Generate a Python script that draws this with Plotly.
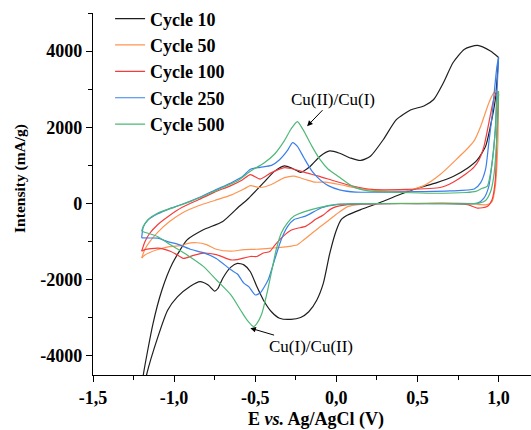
import plotly.graph_objects as go

# ---------------- data (E in V vs Ag/AgCl, I in mA/g) ----------------
cycles = ["Cycle 10", "Cycle 50", "Cycle 100", "Cycle 250", "Cycle 500"]

# Cycle 10 : anodic (forward) branch and cathodic (reverse) branch
E10_a = [-1.20, -1.19, -1.13, -1.075, -1.01, -0.92, -0.82, -0.70, -0.60, -0.54, -0.45, -0.38, -0.32, -0.27, -0.22,
         -0.16, -0.10, -0.04, 0.02, 0.09, 0.15, 0.21, 0.29, 0.37, 0.46, 0.54, 0.60, 0.66, 0.72, 0.79, 0.87, 0.95, 1.00]
I10_a = [-4900, -4500, -3150, -2270, -1570, -955, -690, -470, -80, 140, 540, 850, 990, 920, 820,
         980, 1240, 1380, 1320, 1190, 1130, 1240, 1680, 2200, 2460, 2560, 2730, 3170, 3700, 4050, 4150, 4000, 3830]
E10_c = [1.00, 0.98, 0.95, 0.92, 0.87, 0.81, 0.72, 0.62, 0.50, 0.40, 0.29, 0.15, 0.07, 0.03, 0.00, -0.04, -0.08,
         -0.12, -0.17, -0.22, -0.28, -0.35, -0.40, -0.45, -0.49, -0.53, -0.57, -0.61, -0.65, -0.70, -0.73, -0.75,
         -0.79, -0.84, -0.90, -0.98, -1.04, -1.10, -1.17, -1.20]
I10_c = [3830, 2730, 2030, 1500, 1150, 930, 710, 550, 400, 250, 60, -160, -300, -420, -700, -1300, -2090,
         -2530, -2840, -2990, -3040, -3010, -2840, -2530, -2180, -1790, -1610, -1570, -1670, -1960, -2230, -2300,
         -2140, -2050, -2170, -2450, -2800, -3500, -4500, -5200]

# Cycle 50
E50_a = [-1.20, -1.18, -1.15, -1.10, -1.03, -0.95, -0.85, -0.75, -0.65, -0.57, -0.53, -0.47, -0.40, -0.32, -0.26,
         -0.19, -0.13, -0.07, 0.02, 0.12, 0.22, 0.43, 0.54, 0.64, 0.75, 0.81, 0.85, 0.89, 0.94, 0.97, 0.99, 1.00]
I50_a = [-1430, -1200, -1000, -750, -480, -250, -60, 80, 220, 380, 470, 420, 500, 680, 720,
         630, 560, 560, 500, 410, 350, 330, 470, 760, 1200, 1450, 1650, 2030, 2640, 2900, 2950, 2870]
E50_c = [1.00, 0.995, 0.98, 0.96, 0.93, 0.89, 0.83, 0.72, 0.50, 0.30, 0.15, 0.07, 0.00, -0.05, -0.10, -0.15,
         -0.20, -0.24, -0.30, -0.40, -0.49, -0.57, -0.65, -0.74, -0.80, -0.86, -0.92, -0.95, -1.03, -1.11, -1.18, -1.20]
I50_c = [2870, 1500, 450, 50, -30, -30, 0, 10, 5, 0, -20, -80, -280, -450, -610, -780,
         -950, -1080, -1130, -1170, -1200, -1210, -1250, -1200, -1080, -1030, -1050, -1100, -1130, -1220, -1350, -1430]

# Cycle 100
E100_a = [-1.20, -1.18, -1.15, -1.10, -1.03, -0.95, -0.85, -0.75, -0.65, -0.58, -0.53, -0.47, -0.40, -0.32, -0.26,
          -0.19, -0.11, -0.01, 0.10, 0.22, 0.43, 0.64, 0.72, 0.80, 0.85, 0.88, 0.91, 0.94, 0.97, 0.99, 1.00]
I100_a = [-1250, -1000, -780, -550, -320, -100, 100, 300, 470, 620, 760, 640, 810, 940, 900,
          810, 720, 590, 460, 370, 370, 420, 560, 780, 960, 1150, 1500, 2110, 2730, 2900, 2880]
E100_c = [1.00, 0.99, 0.98, 0.96, 0.93, 0.87, 0.81, 0.72, 0.50, 0.30, 0.15, 0.05, 0.00, -0.04, -0.08, -0.13,
          -0.16, -0.19, -0.24, -0.28, -0.33, -0.38, -0.41, -0.45, -0.49, -0.53, -0.61, -0.65, -0.74, -0.82,
          -0.88, -0.94, -0.98, -1.02, -1.10, -1.18, -1.20]
I100_c = [2880, 1940, 620, 100, -80, -120, -30, 0, 0, 0, -10, -40, -80, -160, -300, -420,
          -520, -600, -650, -700, -870, -1100, -1260, -1300, -1390, -1390, -1470, -1480, -1340, -1300,
          -1360, -1440, -1350, -1260, -1170, -1210, -1250]

# Cycle 250
E250_a = [-1.20, -1.19, -1.16, -1.10, -1.03, -0.95, -0.85, -0.75, -0.65, -0.58, -0.53, -0.47, -0.40, -0.35, -0.30,
          -0.27, -0.24, -0.20, -0.15, -0.10, -0.05, 0.02, 0.12, 0.30, 0.50, 0.70, 0.85, 0.89, 0.92, 0.94, 0.96,
          0.975, 0.99, 1.00]
I250_a = [-900, -620, -430, -270, -140, -20, 150, 350, 540, 700, 900, 950, 1000, 1150, 1400,
          1600, 1500, 1200, 850, 620, 470, 360, 300, 300, 310, 330, 380, 550, 900, 1600, 2300,
          2990, 3600, 3830]
E250_c = [1.00, 0.99, 0.98, 0.96, 0.94, 0.91, 0.87, 0.70, 0.50, 0.30, 0.10, 0.00, -0.09, -0.19, -0.26, -0.30,
          -0.34, -0.38, -0.42, -0.47, -0.50, -0.54, -0.57, -0.61, -0.65, -0.74, -0.82, -0.90, -0.97, -1.04,
          -1.10, -1.15, -1.20]
I250_c = [3830, 2900, 1940, 1060, 450, 140, 10, 0, 0, 0, -10, -30, -110, -330, -420, -600,
          -950, -1470, -2000, -2350, -2400, -2180, -2090, -1850, -1740, -1440, -1290, -1200, -1080, -1000,
          -910, -905, -900]

# Cycle 500
E500_a = [-1.20, -1.19, -1.16, -1.10, -1.00, -0.90, -0.80, -0.70, -0.60, -0.53, -0.45, -0.38, -0.32, -0.28, -0.24,
          -0.20, -0.15, -0.10, -0.05, 0.00, 0.10, 0.20, 0.40, 0.60, 0.80, 0.86, 0.90, 0.93, 0.96, 0.98, 0.99, 1.00]
I500_a = [-720, -600, -420, -250, -100, 50, 230, 420, 620, 850, 1050, 1300, 1650, 1950, 2150,
          1900, 1500, 1150, 900, 750, 450, 330, 290, 270, 290, 320, 400, 450, 1060, 1940, 2700, 2950]
E500_c = [1.00, 0.995, 0.985, 0.97, 0.95, 0.92, 0.88, 0.80, 0.60, 0.40, 0.20, 0.00, -0.10, -0.20, -0.26, -0.30,
          -0.34, -0.37, -0.40, -0.43, -0.46, -0.49, -0.51, -0.55, -0.59, -0.65, -0.74, -0.82, -0.92, -1.02,
          -1.10, -1.19, -1.20]
I500_c = [2950, 2200, 1400, 700, 300, 80, 10, -10, 0, 0, 0, -20, -100, -220, -330, -500,
          -780, -1200, -1800, -2400, -2900, -3150, -3230, -3060, -2800, -2400, -2000, -1650, -1350, -1090,
          -870, -740, -720]

x_tickvals = [-1.5, -1.0, -0.5, 0.0, 0.5, 1.0]
x_ticktext = ["-1,5", "-1,0", "-0,5", "0,0", "0,5", "1,0"]
x_minorvals = [-1.25, -0.75, -0.25, 0.25, 0.75]
y_tickvals = [-4000, -2000, 0, 2000, 4000]
y_ticktext = ["-4000", "-2000", "0", "2000", "4000"]
y_minorvals = [-3000, -1000, 1000, 3000, 5000]

# ---------------- figure ----------------
colors = ["#1e1e1e", "#FF9552", "#F53C3C", "#3A7FEA", "#4DB877"]
branches = [
    (E10_a, I10_a, E10_c, I10_c),
    (E50_a, I50_a, E50_c, I50_c),
    (E100_a, I100_a, E100_c, I100_c),
    (E250_a, I250_a, E250_c, I250_c),
    (E500_a, I500_a, E500_c, I500_c),
]

SERIF = "Liberation Serif"

fig = go.Figure()
for name, col, (ea, ia, ec, ic) in zip(cycles, colors, branches):
    for k, (ex, iy) in enumerate([(ea, ia), (ec, ic)]):
        fig.add_trace(go.Scatter(
            x=ex, y=iy, mode="lines", name=name, legendgroup=name,
            showlegend=(k == 0),
            line=dict(color=col, width=1.2, shape="spline", smoothing=0.6),
        ))

axis_common = dict(
    showline=True, linecolor="black", linewidth=1.3, mirror=False,
    showgrid=False, zeroline=False, automargin=False,
    ticks="outside", ticklen=6, tickwidth=1.3, tickcolor="black",
    tickfont=dict(family=SERIF, size=18, color="black", weight="bold"),
)

fig.update_layout(
    width=531, height=430,
    margin=dict(l=93, r=0, t=13, b=55, pad=0),
    paper_bgcolor="white", plot_bgcolor="white",
    xaxis=dict(range=[-1.5, 1.2], tickmode="array", tickvals=x_tickvals, ticktext=x_ticktext,
               minor=dict(tickmode="array", tickvals=x_minorvals, ticks="outside", ticklen=4,
                          tickwidth=1.3, tickcolor="black", showgrid=False),
               **axis_common),
    yaxis=dict(range=[-4500, 5000], tickmode="array", tickvals=y_tickvals, ticktext=y_ticktext,
               minor=dict(tickmode="array", tickvals=y_minorvals, ticks="outside", ticklen=4,
                          tickwidth=1.3, tickcolor="black", showgrid=False),
               **axis_common),
    legend=dict(x=0.039, y=1.035, xanchor="left", yanchor="top",
                bgcolor="rgba(0,0,0,0)", borderwidth=0, tracegroupgap=0,
                font=dict(family=SERIF, size=18, color="black", weight="bold")),
    showlegend=True,
)

# axis titles
fig.add_annotation(text="E <i>vs.</i> Ag/AgCl (V)", xref="paper", yref="paper",
                   x=0.509, y=-0.122, xanchor="center", yanchor="middle", showarrow=False,
                   font=dict(family=SERIF, size=18, color="black", weight="bold"))
fig.add_annotation(text="Intensity (mA/g)", xref="paper", yref="paper",
                   x=-0.167, y=0.544, xanchor="center", yanchor="middle", showarrow=False,
                   textangle=-90, font=dict(family=SERIF, size=15.5, color="black", weight="bold"))

# peak labels
fig.add_annotation(text="Cu(II)/Cu(I)", x=-0.18, y=2030, xref="x", yref="y",
                   ax=26, ay=-27, showarrow=True, arrowhead=2, arrowsize=1.1, arrowwidth=1,
                   arrowcolor="black", font=dict(family=SERIF, size=17, color="black"))
fig.add_annotation(text="Cu(I)/Cu(II)", x=-0.53, y=-3270, xref="x", yref="y",
                   ax=61, ay=18, showarrow=True, arrowhead=2, arrowsize=1.1, arrowwidth=1,
                   arrowcolor="black", font=dict(family=SERIF, size=17, color="black"))

# remove the browser's default 8px page margin so the 531x430 figure fills the window
fig.write_html("out.html", config={"displayModeBar": False},
               post_script="document.body.style.margin='0';")
